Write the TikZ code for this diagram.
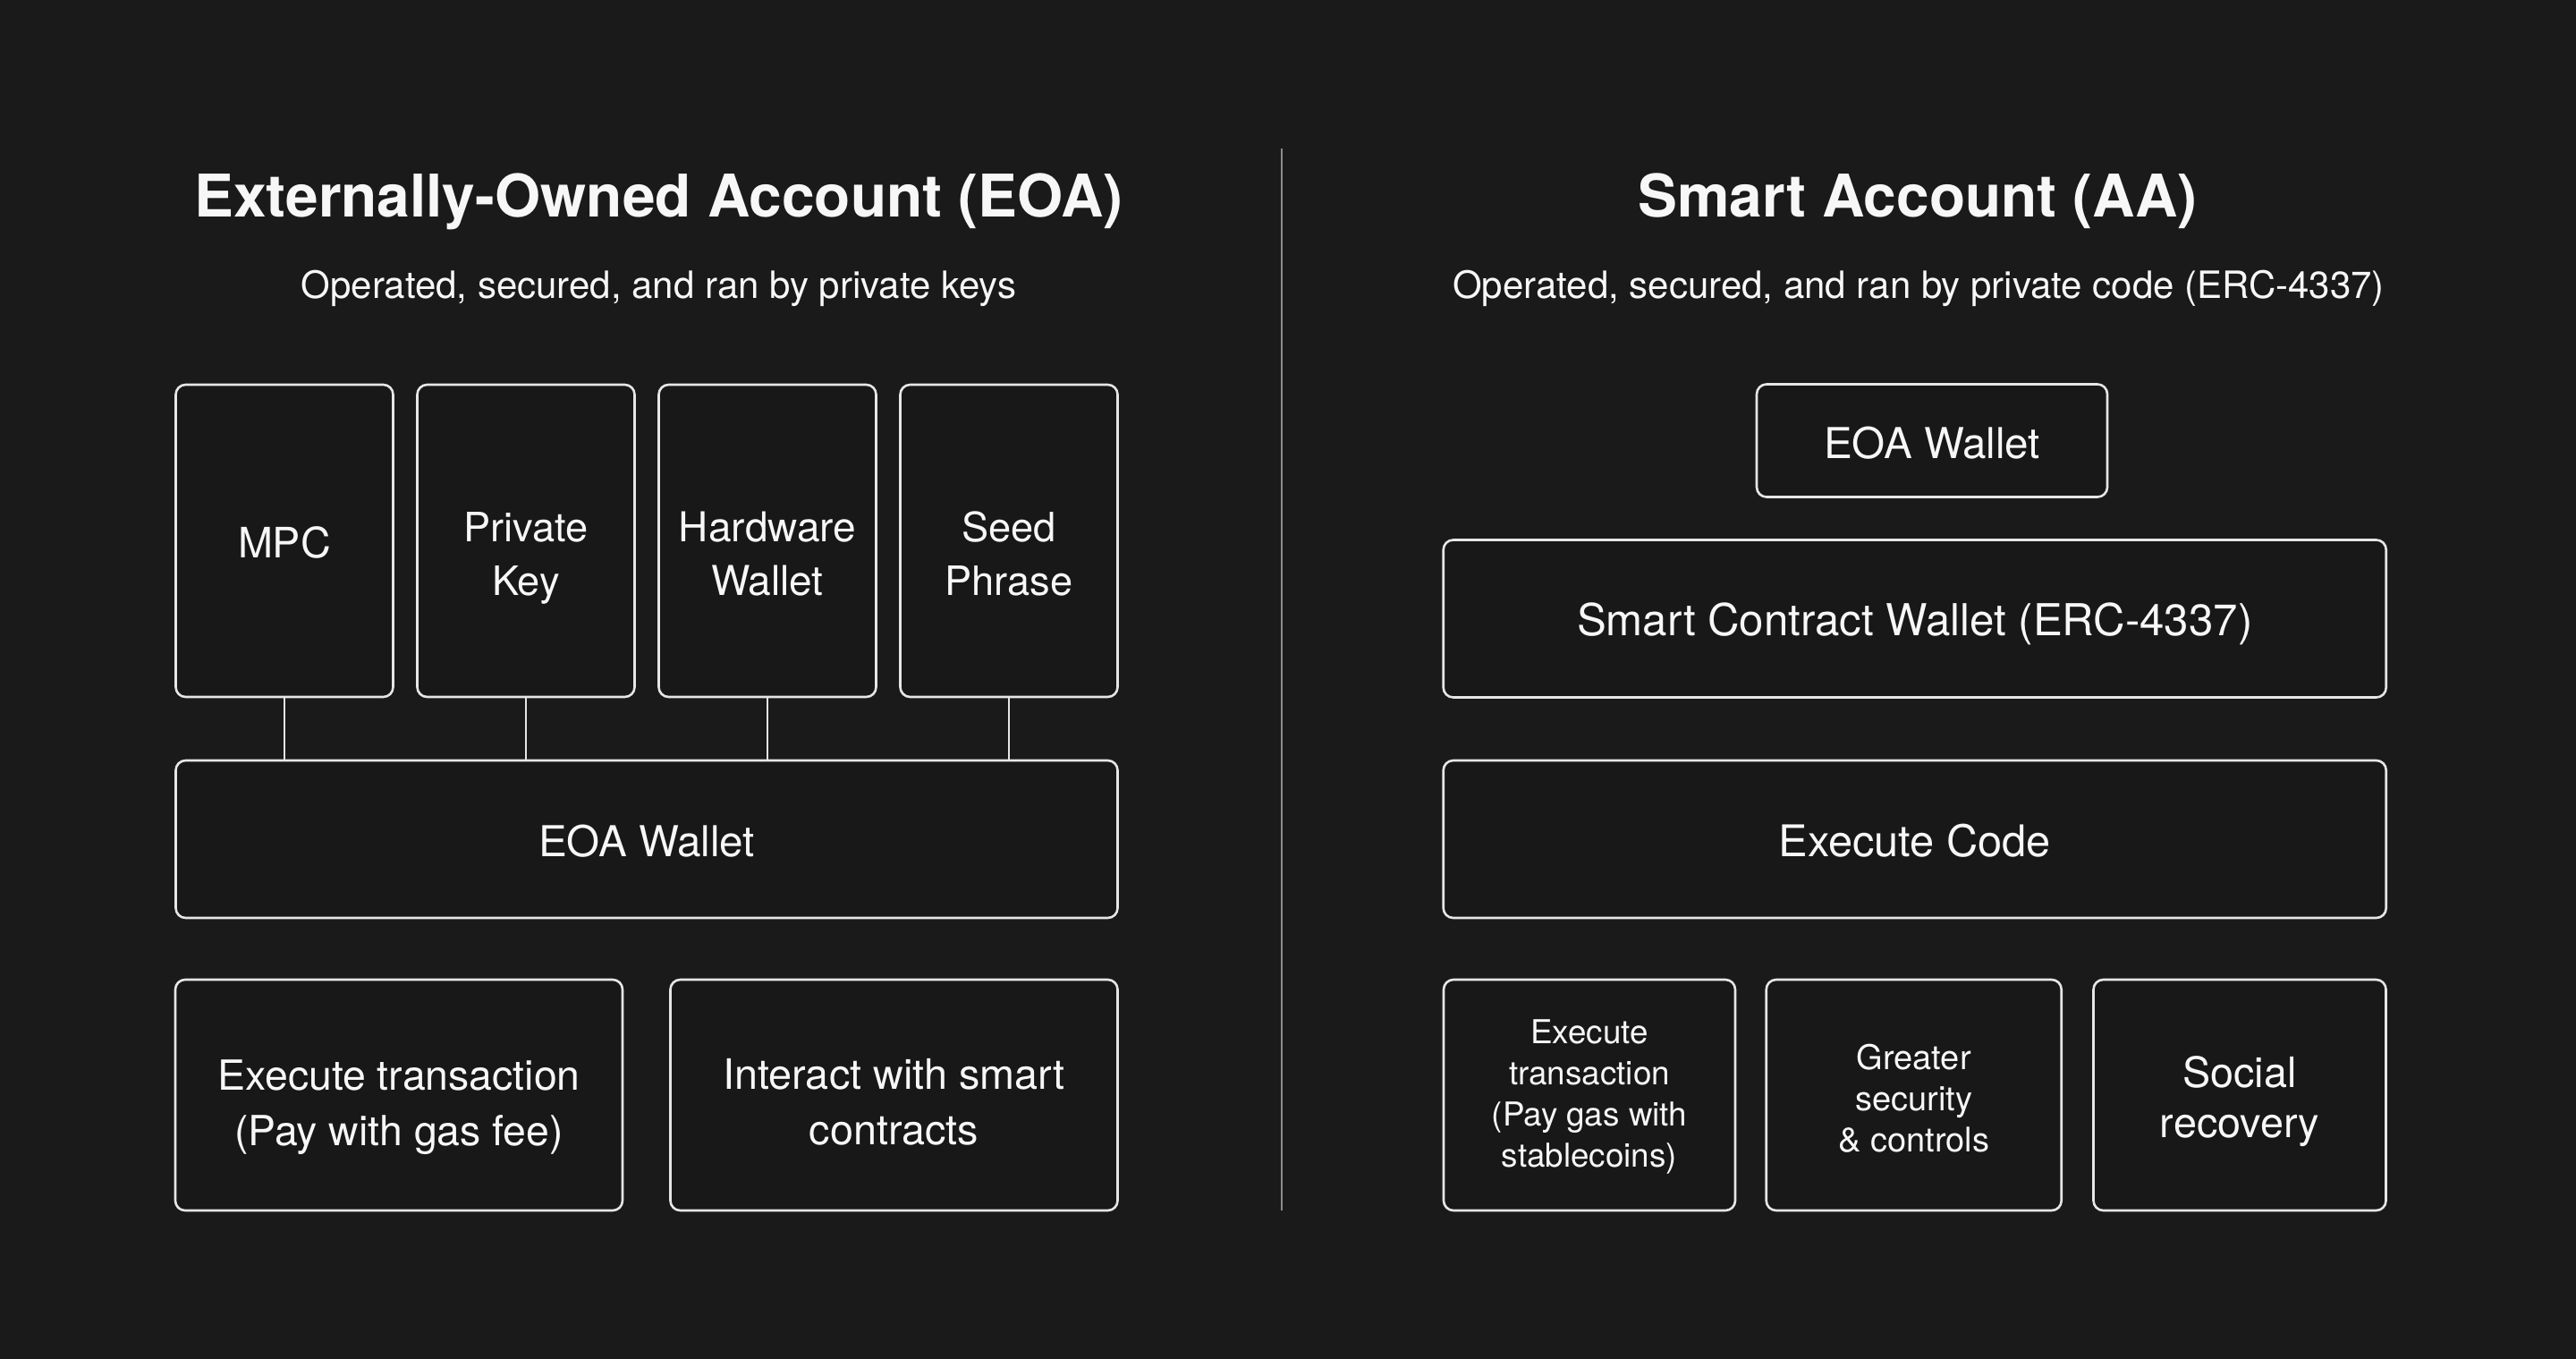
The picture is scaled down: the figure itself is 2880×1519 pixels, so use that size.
\documentclass[tikz,border=0pt]{standalone}
\usepackage{fontspec}
\setmainfont{TeX Gyre Heros}
\definecolor{bg}{HTML}{1A1A1A}
\definecolor{boxfill}{HTML}{181818}
\definecolor{edge}{HTML}{E6E6E6}
\definecolor{txt}{HTML}{F7F7F7}
\definecolor{divc}{HTML}{8C8C8C}
\tikzset{
  card/.style={draw=edge, line width=0.65pt, rounded corners=2.75pt, fill=boxfill,
    text=txt, align=center, inner sep=0pt},
  fs/.style n args={3}{font=\fontsize{#1}{#2}\selectfont, text height=#3, text depth=0pt},
  title/.style={text=txt, inner sep=0pt, anchor=base, font=\bfseries\fontsize{16.45}{19}\selectfont},
  subtitle/.style={text=txt, inner sep=0pt, anchor=base, font=\fontsize{10.5}{12}\selectfont},
  link/.style={draw=edge, line width=0.5pt},
  divider/.style={draw=divc, line width=0.5pt}
}
\begin{document}
\begin{tikzpicture}[x=0.25pt, y=-0.25pt]
  \fill[bg] (0,0) rectangle (2880,1519);
  \useasboundingbox (0,0) rectangle (2880,1519);

  % Titles
  \node[title] (ltitle) at (736.5,243) {Externally-Owned Account (EOA)};
  \node[subtitle] (lsub) at (736.5,333) {Operated, secured, and ran by private keys};
  \node[title] (rtitle) at (2144,243) {Smart Account (AA)};
  \node[subtitle] (rsub) at (2145,333) {Operated, secured, and ran by private code (ERC-4337)};

  % Divider
  \coordinate (dtop) at (1432.5,166);
  \coordinate (dbot) at (1432.5,1353);
  \draw[divider] (dtop) -- (dbot);

  % Left side
  \node[card, fs={11.7}{15}{9.65pt}, minimum width=243*0.25pt, minimum height=349*0.25pt] (mpc) at (318,604.5) {MPC};
  \node[card, fs={11.3}{15}{30.61pt}, minimum width=243*0.25pt, minimum height=349*0.25pt] (pk) at (588,604.5) {Private\\Key};
  \node[card, fs={11.5}{15}{30.26pt}, minimum width=243*0.25pt, minimum height=349*0.25pt] (hw) at (858,604.5) {Hardware\\Wallet};
  \node[card, fs={11.3}{15}{30.36pt}, minimum width=243*0.25pt, minimum height=349*0.25pt] (seed) at (1128,604.5) {Seed\\Phrase};
  \node[card, fs={11.9}{15}{9.54pt}, minimum width=1053*0.25pt, minimum height=176*0.25pt] (eoa) at (723,938) {EOA Wallet};
  \draw[link] (mpc.south) -- (mpc.south |- eoa.north);
  \draw[link] (pk.south) -- (pk.south |- eoa.north);
  \draw[link] (hw.south) -- (hw.south |- eoa.north);
  \draw[link] (seed.south) -- (seed.south |- eoa.north);
  \node[card, fs={11.6}{15.5}{28.33pt}, minimum width=500*0.25pt, minimum height=258*0.25pt] (exec) at (446,1224) {Execute transaction\\(Pay with gas fee)};
  \node[card, fs={11.7}{15.5}{27.9pt}, minimum width=500*0.25pt, minimum height=258*0.25pt] (interact) at (999.5,1224) {Interact with smart\\contracts};

  % Right side
  \node[card, fs={11.9}{15}{10.04pt}, minimum width=392*0.25pt, minimum height=126*0.25pt] (reoa) at (2160,492.5) {EOA Wallet};
  \node[card, fs={12.3}{15}{9.33pt}, minimum width=1054*0.25pt, minimum height=176*0.25pt] (scw) at (2140.7,691.5) {Smart Contract Wallet (ERC-4337)};
  \node[card, fs={12.2}{15}{9.76pt}, minimum width=1054*0.25pt, minimum height=176*0.25pt] (code) at (2140.7,938) {Execute Code};
  \node[card, fs={9.2}{11.5}{40.1pt}, minimum width=326*0.25pt, minimum height=258*0.25pt] (stable) at (1777,1224) {Execute\\transaction\\(Pay gas with\\stablecoins)};
  \node[card, fs={9.5}{11.5}{31.82pt}, minimum width=330*0.25pt, minimum height=258*0.25pt] (secure) at (2139.7,1224) {Greater\\security\\\& controls};
  \node[card, fs={11.7}{14}{23.9pt}, minimum width=327*0.25pt, minimum height=258*0.25pt] (social) at (2504,1224) {Social\\recovery};
\end{tikzpicture}
\end{document}
